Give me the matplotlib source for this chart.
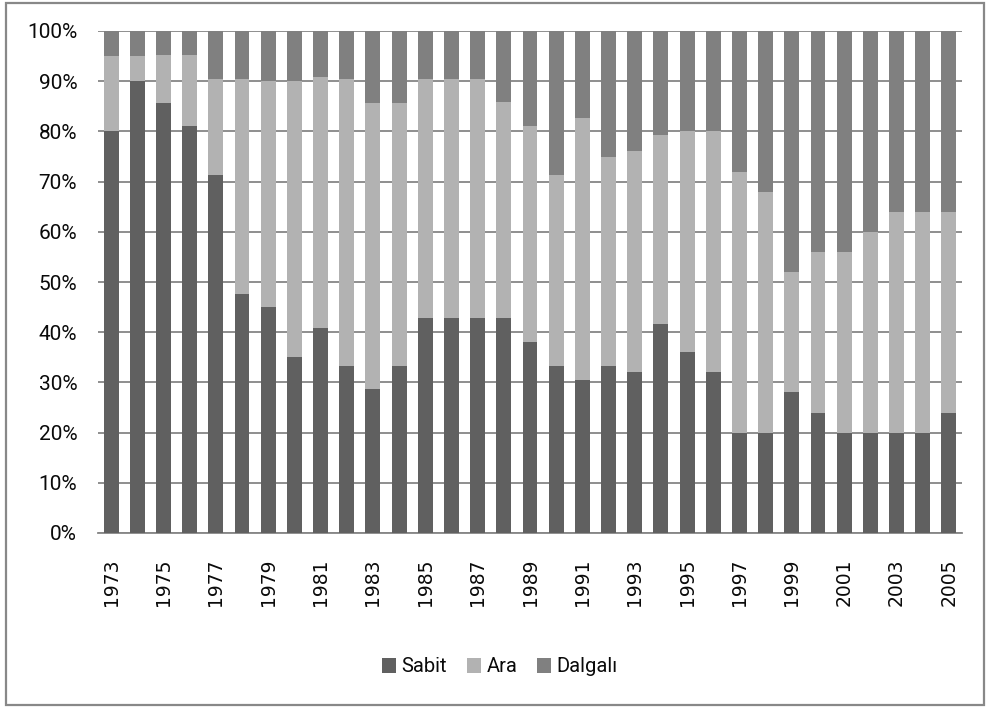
import matplotlib
matplotlib.use("Agg")
import matplotlib.pyplot as plt
from matplotlib.patches import Rectangle, Patch
import numpy as np

years = list(range(1973, 2006))
sabit = [80, 90, 85.7, 81, 71.4, 47.6, 45, 35, 40.9, 33.3, 28.6, 33.3, 42.9, 42.9, 42.9,
         42.9, 38.1, 33.3, 30.4, 33.3, 32, 41.7, 36, 32, 20, 20, 28, 24, 20, 20, 20, 20, 24]
ara = [15, 5, 9.5, 14.3, 19, 42.9, 45, 55, 50, 57.1, 57.1, 52.4, 47.6, 47.6, 47.6,
       42.9, 42.9, 38.1, 52.2, 41.7, 44, 37.5, 44, 48, 52, 48, 24, 32, 36, 40, 44, 44, 40]
dalgali = [5, 5, 4.8, 4.7, 9.6, 9.5, 10, 10, 9.1, 9.6, 14.3, 14.3, 9.5, 9.5, 9.5,
           14.2, 19, 28.6, 17.4, 25, 24, 20.8, 20, 20, 28, 32, 48, 44, 44, 40, 36, 36, 36]
series_names = ["Sabit", "Ara", "Dalgalı"]
colors = ["#606060", "#b2b2b2", "#808080"]
yticks = [0, 10, 20, 30, 40, 50, 60, 70, 80, 90, 100]
ytick_labels = [f"{v}%" for v in yticks]

W, H = 986, 707
fig = plt.figure(figsize=(W / 100, H / 100), dpi=100)
ax = fig.add_axes([98 / W, 1 - 533 / H, (962 - 98) / W, (533 - 31) / H])

x = np.arange(len(years))
width = 0.57
bottom = np.zeros(len(years))
for vals, col, name in zip([sabit, ara, dalgali], colors, series_names):
    v = np.array(vals, dtype=float)
    ax.bar(x, v, width, bottom=bottom, color=col, label=name, zorder=3)
    bottom += v

ax.set_xlim(-0.5, len(years) - 0.5)
ax.set_ylim(0, 100)
ax.set_yticks(yticks)
ax.set_yticklabels(ytick_labels, fontsize=15, family=["Roboto", "DejaVu Sans"], color="#0a0a0a")
ax.set_xticks(x)
ax.set_xticklabels([str(y) if (y - 1973) % 2 == 0 else "" for y in years], rotation=90,
                   fontsize=13.5, family=["DejaVu Sans"], color="#0a0a0a")
ax.tick_params(axis="both", length=0)
ax.tick_params(axis="y", pad=15)
ax.tick_params(axis="x", pad=18)
ax.grid(axis="y", color="#868686", linewidth=1.3, zorder=0)
for s in ["left", "right", "top"]:
    ax.spines[s].set_visible(False)
ax.spines["bottom"].set_color("#868686")
ax.spines["bottom"].set_linewidth(1.3)

handles = [Patch(facecolor=c, label=n) for c, n in zip(colors, series_names)]
fig.legend(handles=handles, loc="center", bbox_to_anchor=(500 / W, 1 - 667 / H), ncol=3,
           frameon=False, handlelength=0.7, handleheight=0.7, handletextpad=0.25,
           columnspacing=1.0, labelcolor="#0a0a0a",
           prop={"family": ["Roboto", "DejaVu Sans"], "size": 14.5})

fig.patches.append(Rectangle((6 / W, 2 / H), (984 - 6) / W, (704 - 2) / H, transform=fig.transFigure,
                             fill=False, edgecolor="#888888", linewidth=1.6))

fig.savefig("out.png", dpi=100)
